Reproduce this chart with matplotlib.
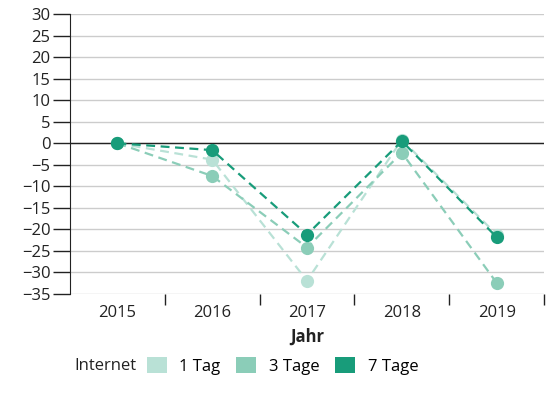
import matplotlib

matplotlib.use("Agg")

import matplotlib.pyplot as plt  # noqa: E402
from matplotlib.patches import Patch  # noqa: E402

plt.rcParams["font.family"] = ["Open Sans", "DejaVu Sans"]

years = ["2015", "2016", "2017", "2018", "2019"]
tag1 = [0, -3.8, -31.9, 0.8, -21.2]
tage3 = [0, -7.6, -24.2, -2.2, -32.4]
tage7 = [0, -1.6, -21.2, 0.5, -21.8]
series_labels = ["1 Tag", "3 Tage", "7 Tage"]
colors = ["#b9e1d6", "#8bcdb8", "#189c7a"]
yticks = list(range(-35, 31, 5))

FS = 12

fig = plt.figure(figsize=(5.49, 4.05), dpi=100)
ax = fig.add_axes([0.1275, 0.274, 0.991 - 0.1275, 0.9654 - 0.274])

x = range(len(years))
for vals, c in zip([tag1, tage3, tage7], colors):
    ax.plot(x, vals, color=c, linestyle=(0, (4, 2.5)), linewidth=1.6,
            marker="o", markersize=9.5, markeredgewidth=0, zorder=3)

ax.set_xlim(-0.5, len(years) - 0.5)
ax.set_ylim(-35, 30)
ax.set_yticks(yticks)
ax.set_yticklabels([str(v).replace("-", "\u2212") for v in yticks])
ax.yaxis.grid(True, color="#cccccc", linewidth=1)
ax.axhline(0, color="#222222", linewidth=1, zorder=2)
ax.set_axisbelow(True)

ax.set_xticks([i + 0.5 for i in range(len(years))])
ax.set_xticklabels([])
ax.set_xticks(list(x), minor=True)
ax.set_xticklabels(years, minor=True)
ax.tick_params(axis="x", which="major", length=8, width=1, color="#222222")
ax.tick_params(axis="x", which="minor", length=0, pad=8, labelsize=FS, labelcolor="#222222")
ax.tick_params(axis="y", length=12, width=1, color="#222222", labelsize=FS,
               labelcolor="#222222", pad=2)

for s in ["top", "right", "bottom"]:
    ax.spines[s].set_visible(False)
ax.spines["left"].set_color("#222222")

ax.set_xlabel("Jahr", fontweight="bold", fontsize=FS, labelpad=5, color="#222222")

fig.text(0.135, 0.096, "Internet", fontsize=FS, va="center", color="#222222")
handles = [Patch(facecolor=c, edgecolor="none") for c in colors]
fig.legend(handles, series_labels, loc="center left", bbox_to_anchor=(0.267, 0.096),
           ncol=3, frameon=False, fontsize=FS, handlelength=1.2, handleheight=1.1,
           handletextpad=0.75, columnspacing=0.95, borderaxespad=0, borderpad=0)

fig.savefig("out.png", dpi=100)
plt.close(fig)
